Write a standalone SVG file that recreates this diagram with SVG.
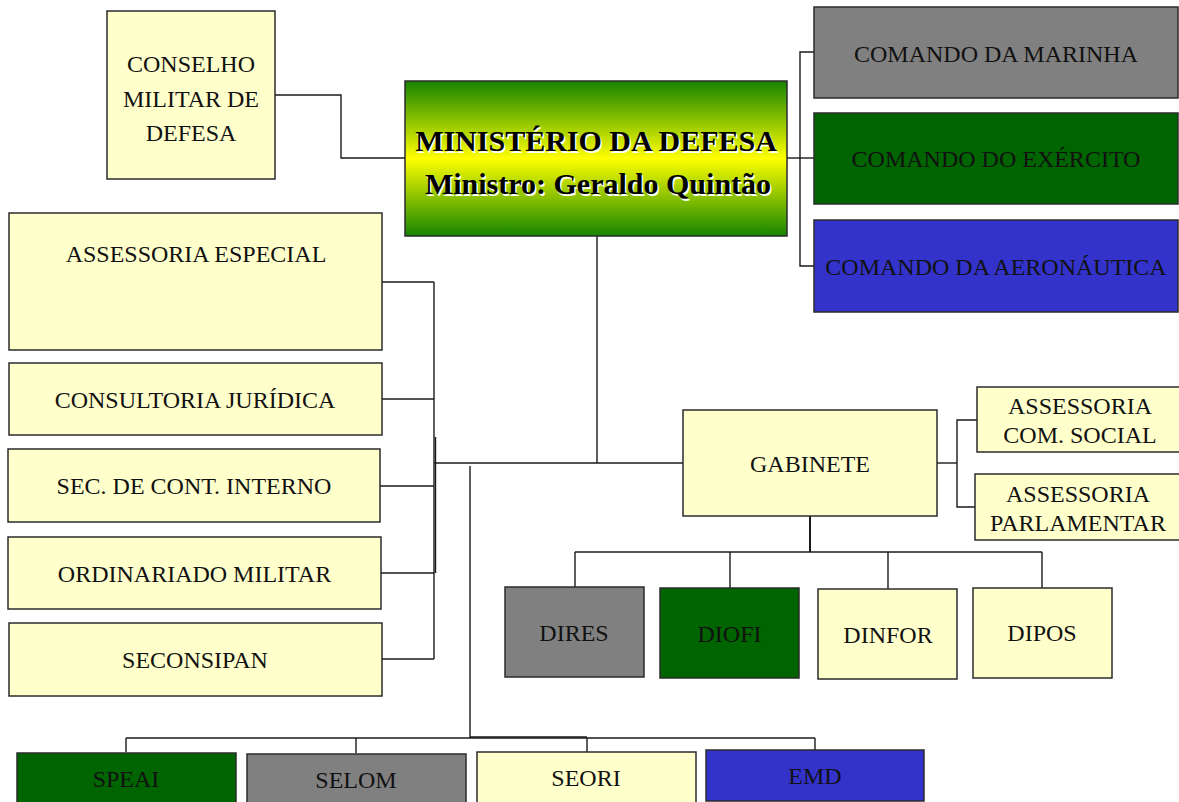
<svg xmlns="http://www.w3.org/2000/svg" width="1179" height="802" viewBox="0 0 1179 802">
<defs>
<linearGradient id="mdGrad" x1="0" y1="0" x2="0" y2="1">
<stop offset="0" stop-color="#168400"/>
<stop offset="0.5" stop-color="#ffff00"/>
<stop offset="1" stop-color="#168400"/>
</linearGradient>
</defs>
<style>
.box{stroke:#2b2b2b;stroke-width:1.5}
.y{fill:#ffffcc}
.g{fill:#808080}
.gr{fill:#006400}
.b{fill:#3333cc}
.t{font-family:"Liberation Serif","Times New Roman",serif;font-size:24px;fill:#111;text-anchor:middle}
.tb{font-family:"Liberation Serif","Times New Roman",serif;font-size:30px;font-weight:bold;text-anchor:middle}
.c{fill:none;stroke:#1a1a1a;stroke-width:1.4}
</style>
<rect width="1179" height="802" fill="#ffffff"/>
<g id="connectors">
<polyline class="c" points="275,95 341,95 341,158 405,158"/>
<line class="c" x1="787" y1="158" x2="800" y2="158"/>
<polyline class="c" points="814,52 800,52 800,266 814,266"/>
<line class="c" x1="800" y1="158" x2="814" y2="158"/>
<line class="c" x1="597" y1="236" x2="597" y2="463"/>
<line class="c" x1="434" y1="463" x2="684" y2="463"/>
<line class="c" x1="434" y1="282" x2="434" y2="659"/>
<line class="c" x1="435.5" y1="437" x2="435.5" y2="573"/>
<line class="c" x1="382" y1="282" x2="434" y2="282"/>
<line class="c" x1="382" y1="399" x2="434" y2="399"/>
<line class="c" x1="380" y1="486" x2="434" y2="486"/>
<line class="c" x1="381" y1="573" x2="434" y2="573"/>
<line class="c" x1="382" y1="659" x2="434" y2="659"/>
<line class="c" x1="470" y1="466" x2="470" y2="738"/>
<line class="c" x1="126" y1="738" x2="815" y2="738"/>
<line class="c" x1="470" y1="737" x2="587" y2="737"/>
<line class="c" x1="126" y1="738" x2="126" y2="752"/>
<line class="c" x1="356" y1="738" x2="356" y2="753"/>
<line class="c" x1="587" y1="738" x2="587" y2="752"/>
<line class="c" x1="815" y1="738" x2="815" y2="750"/>
<line class="c" x1="937" y1="463" x2="957" y2="463"/>
<polyline class="c" points="977,420 957,420 957,507 975,507"/>
<line class="c" x1="810" y1="516" x2="810" y2="552" style="stroke-width:2"/>
<line class="c" x1="575" y1="552" x2="1042" y2="552"/>
<line class="c" x1="575" y1="552" x2="575" y2="587"/>
<line class="c" x1="730" y1="552" x2="730" y2="588"/>
<line class="c" x1="888" y1="552" x2="888" y2="589"/>
<line class="c" x1="1042" y1="552" x2="1042" y2="588"/>
</g>
<g id="conselho">
<rect class="box y" x="107" y="11" width="168" height="168"/>
<text class="t" x="191" y="72">CONSELHO</text>
<text class="t" x="191" y="107">MILITAR DE</text>
<text class="t" x="191" y="141">DEFESA</text>
</g>
<g id="ministerio">
<rect class="box" x="405" y="81" width="382" height="155" fill="url(#mdGrad)"/>
<text class="tb" x="597.5" y="152.5" fill="#ffffff">MINISTÉRIO DA DEFESA</text>
<text class="tb" x="596" y="151" fill="#000000">MINISTÉRIO DA DEFESA</text>
<text class="tb" x="599.5" y="195.5" fill="#ffffff">Ministro: Geraldo Quintão</text>
<text class="tb" x="598" y="194" fill="#000000">Ministro: Geraldo Quintão</text>
</g>
<g id="marinha">
<rect class="box g" x="814" y="7" width="364" height="91"/>
<text class="t" x="996" y="62">COMANDO DA MARINHA</text>
</g>
<g id="exercito">
<rect class="box gr" x="814" y="113" width="364" height="91"/>
<text class="t" x="996" y="167">COMANDO DO EXÉRCITO</text>
</g>
<g id="aeronautica">
<rect class="box b" x="814" y="220" width="364" height="92"/>
<text class="t" x="996" y="275">COMANDO DA AERONÁUTICA</text>
</g>
<g id="assessoria-especial">
<rect class="box y" x="9" y="213" width="373" height="137"/>
<text class="t" x="196" y="262">ASSESSORIA ESPECIAL</text>
</g>
<g id="consultoria">
<rect class="box y" x="9" y="363" width="373" height="72"/>
<text class="t" x="195" y="408">CONSULTORIA JURÍDICA</text>
</g>
<g id="sec-cont">
<rect class="box y" x="8" y="449" width="372" height="73"/>
<text class="t" x="194" y="494">SEC. DE CONT. INTERNO</text>
</g>
<g id="ordinariado">
<rect class="box y" x="8" y="537" width="373" height="72"/>
<text class="t" x="194.5" y="582">ORDINARIADO MILITAR</text>
</g>
<g id="seconsipan">
<rect class="box y" x="9" y="623" width="373" height="73"/>
<text class="t" x="195" y="668">SECONSIPAN</text>
</g>
<g id="gabinete">
<rect class="box y" x="683" y="410" width="254" height="106"/>
<text class="t" x="810" y="472">GABINETE</text>
</g>
<g id="assessoria-com-social">
<rect class="box y" x="977" y="387" width="203" height="65"/>
<text class="t" x="1080" y="414">ASSESSORIA</text>
<text class="t" x="1080" y="443">COM. SOCIAL</text>
</g>
<g id="assessoria-parlamentar">
<rect class="box y" x="975" y="474" width="205" height="66"/>
<text class="t" x="1078" y="502">ASSESSORIA</text>
<text class="t" x="1078" y="531">PARLAMENTAR</text>
</g>
<g id="dires">
<rect class="box g" x="505" y="587" width="139" height="90"/>
<text class="t" x="574" y="641">DIRES</text>
</g>
<g id="diofi">
<rect class="box gr" x="660" y="588" width="139" height="90"/>
<text class="t" x="729.5" y="642">DIOFI</text>
</g>
<g id="dinfor">
<rect class="box y" x="818" y="589" width="139" height="90"/>
<text class="t" x="888" y="643">DINFOR</text>
</g>
<g id="dipos">
<rect class="box y" x="973" y="588" width="139" height="90"/>
<text class="t" x="1042" y="641">DIPOS</text>
</g>
<g id="speai">
<rect class="box gr" x="17" y="753" width="219" height="60"/>
<text class="t" x="126" y="787">SPEAI</text>
</g>
<g id="selom">
<rect class="box g" x="247" y="754" width="219" height="60"/>
<text class="t" x="356" y="788">SELOM</text>
</g>
<g id="seori">
<rect class="box y" x="477" y="752" width="219" height="60"/>
<text class="t" x="586" y="786">SEORI</text>
</g>
<g id="emd">
<rect class="box b" x="706" y="750" width="218" height="51"/>
<text class="t" x="815" y="784">EMD</text>
</g>
</svg>
